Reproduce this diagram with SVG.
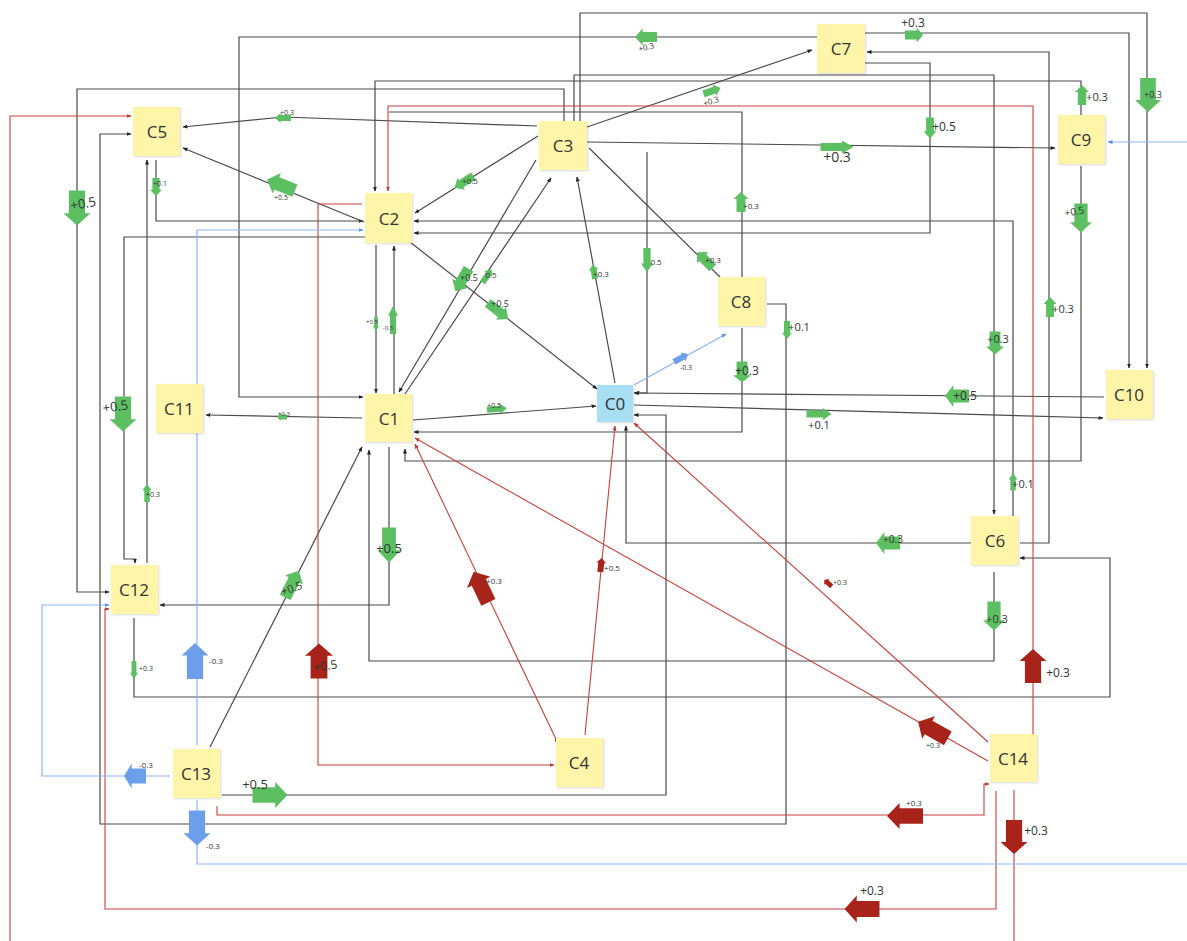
<svg xmlns="http://www.w3.org/2000/svg" xmlns:xlink="http://www.w3.org/1999/xlink" width="1187" height="941" viewBox="0 0 1187 941">
<style>
.k{fill:none;stroke:#4a4a4a;stroke-width:1.2}
.r{fill:none;stroke:#c8413a;stroke-width:1.1}
.b{fill:none;stroke:#8ab4f8;stroke-width:1.2}
.gA{fill:#5cbf62}
.rA{fill:#a8241a}
.bA{fill:#6d9eeb}
.lb{font-family:"Open Sans","Liberation Sans",sans-serif;fill:#333;text-anchor:middle}
.nd{fill:#fff5a8}
.nt{font-family:"Open Sans","Liberation Sans",sans-serif;font-size:17px;fill:#333;text-anchor:middle;dominant-baseline:central}
</style>
<defs>
<path id="ar" d="M-1,-0.6 H0.3 V-1 L1,0 L0.3,1 V0.6 H-1 Z"/>
<marker id="mk" viewBox="0 0 10 10" refX="9" refY="5" markerWidth="5" markerHeight="5" orient="auto" markerUnits="userSpaceOnUse"><path d="M0,1 L10,5 L0,9 Z" fill="#222"/></marker>
<marker id="mr" viewBox="0 0 10 10" refX="9" refY="5" markerWidth="5" markerHeight="5" orient="auto" markerUnits="userSpaceOnUse"><path d="M0,1 L10,5 L0,9 Z" fill="#c0392b"/></marker>
<marker id="mb" viewBox="0 0 10 10" refX="9" refY="5" markerWidth="5" markerHeight="5" orient="auto" markerUnits="userSpaceOnUse"><path d="M0,1 L10,5 L0,9 Z" fill="#5b8fe8"/></marker>
<filter id="sh" x="-10%" y="-10%" width="130%" height="130%"><feDropShadow dx="1" dy="1" stdDeviation="1" flood-color="#000" flood-opacity="0.15"/></filter>
</defs>
<rect width="1187" height="941" fill="#fff"/>
<g id="connectors">
<path class="k" marker-end="url(#mk)" d="M580,121 V13 H1147 V368"/>
<path class="k" marker-end="url(#mk)" d="M865,33 H1129 V368"/>
<path class="k" marker-end="url(#mk)" d="M817,37 H239 V397 H363"/>
<path class="k" marker-end="url(#mk)" d="M587,127 L812,50"/>
<path class="k" marker-end="url(#mk)" d="M1020,543 H1049 V52 H867"/>
<path class="k" marker-end="url(#mk)" d="M865,63 H930 V233 H414"/>
<path class="k" marker-end="url(#mk)" d="M1013,516 V221 H414"/>
<path class="k" marker-end="url(#mk)" d="M574,121 V75 H994 V514"/>
<path class="k" marker-end="url(#mk)" d="M1081,115 V81 H375 V191"/>
<path class="k" marker-end="url(#mk)" d="M564,121 V89 H77 V592 H109"/>
<path class="k" d="M742,277 V112 H389"/>
<path class="k" marker-end="url(#mk)" d="M537,126 L283,117 L183,127"/>
<path class="k" marker-end="url(#mk)" d="M587,142 L1055,148"/>
<path class="k" marker-end="url(#mk)" d="M647,152 V393 H634"/>
<path class="k" marker-end="url(#mk)" d="M1081,166 V461 H405 V449"/>
<path class="k" marker-end="url(#mk)" d="M767,304 H786 V824 H100 V134 H131"/>
<path class="k" marker-end="url(#mk)" d="M156,160 V221 H363"/>
<path class="k" marker-end="url(#mk)" d="M147,563 V160"/>
<path class="k" marker-end="url(#mk)" d="M365,237 H124 V559 H135 V563"/>
<path class="k" marker-end="url(#mk)" d="M389,447 V605 H160"/>
<path class="k" marker-end="url(#mk)" d="M134,618 V697 H1110 V558 H1020"/>
<path class="k" marker-end="url(#mk)" d="M210,747 L362,447"/>
<path class="k" marker-end="url(#mk)" d="M222,795 H666 V415 H634"/>
<path class="k" marker-end="url(#mk)" d="M376,245 V393"/>
<path class="k" marker-end="url(#mk)" d="M394,394 V246"/>
<path class="k" marker-end="url(#mk)" d="M405,394 L551,178"/>
<path class="k" marker-end="url(#mk)" d="M536,160 L399,392"/>
<path class="k" marker-end="url(#mk)" d="M413,420 L596,406"/>
<path class="k" marker-end="url(#mk)" d="M742,328 V432 H414"/>
<path class="k" marker-end="url(#mk)" d="M971,543 H626 V426"/>
<path class="k" marker-end="url(#mk)" d="M615,383 L577,177"/>
<path class="k" marker-end="url(#mk)" d="M634,405 L1103,418"/>
<path class="k" marker-end="url(#mk)" d="M1104,397 L635,393"/>
<path class="k" d="M720,277 L589,148"/>
<path class="k" marker-end="url(#mk)" d="M538,136 L415,213"/>
<path class="k" marker-end="url(#mk)" d="M364,222 L183,148"/>
<path class="k" marker-end="url(#mk)" d="M410,242 L597,389"/>
<path class="k" marker-end="url(#mk)" d="M362,418 L206,415"/>
<path class="k" marker-end="url(#mk)" d="M994,572 V661 H369 V450"/>
<path class="r" marker-end="url(#mr)" d="M1033,734 V106 H388 V191"/>
<path class="r" marker-end="url(#mr)" d="M1014,790 V950 H10 V116 H131"/>
<path class="r" marker-end="url(#mr)" d="M996,791 V909 H105 V609 H109"/>
<path class="r" marker-end="url(#mr)" d="M217,806 V815 H984 V784 H989"/>
<path class="r" marker-start="url(#mr)" marker-end="url(#mr)" d="M555,737 L415,444"/>
<path class="r" marker-end="url(#mr)" d="M988,761 L415,438"/>
<path class="r" marker-end="url(#mr)" d="M988,742 L634,423"/>
<path class="r" marker-end="url(#mr)" d="M585,735 L615,426"/>
<path class="r" marker-end="url(#mr)" d="M362,204 H318 V765 H554"/>
<path class="b" marker-end="url(#mb)" d="M197,800 V864 H1195 V142 H1108"/>
<path class="b" marker-end="url(#mb)" d="M170,776 H42 V605 H109"/>
<path class="b" marker-end="url(#mb)" d="M197,745 V230 H363"/>
<path class="b" marker-end="url(#mb)" d="M634,385 L726,334"/>
<!-- green block arrows -->
<g class="gA">
<use xlink:href="#ar" transform="translate(1148,95) rotate(90) scale(17,13)"/>
<use xlink:href="#ar" transform="translate(914,35) scale(9,7.5)"/>
<use xlink:href="#ar" transform="translate(646,37) rotate(180) scale(11,8.5)"/>
<use xlink:href="#ar" transform="translate(712,91) rotate(-19) scale(9,6)"/>
<use xlink:href="#ar" transform="translate(837,147) scale(16.5,6.5)"/>
<use xlink:href="#ar" transform="translate(930,128) rotate(90) scale(10.5,6.5)"/>
<use xlink:href="#ar" transform="translate(1082,95) rotate(-90) scale(10,7)"/>
<use xlink:href="#ar" transform="translate(1081,218) rotate(90) scale(14.5,11)"/>
<use xlink:href="#ar" transform="translate(1050,307) rotate(-90) scale(10,6.5)"/>
<use xlink:href="#ar" transform="translate(995,343) rotate(90) scale(11.5,9)"/>
<use xlink:href="#ar" transform="translate(957,396) rotate(180) scale(12,11)"/>
<use xlink:href="#ar" transform="translate(819,414) scale(12.5,6)"/>
<use xlink:href="#ar" transform="translate(742,372) rotate(90) scale(10.5,9)"/>
<use xlink:href="#ar" transform="translate(787,330) rotate(90) scale(9,5)"/>
<use xlink:href="#ar" transform="translate(1013,482) rotate(-90) scale(8.5,4.5)"/>
<use xlink:href="#ar" transform="translate(888,543) rotate(180) scale(12,11)"/>
<use xlink:href="#ar" transform="translate(994,616) rotate(90) scale(14.5,11)"/>
<use xlink:href="#ar" transform="translate(741,202) rotate(-90) scale(10,7.5)"/>
<use xlink:href="#ar" transform="translate(705,260) rotate(-135) scale(11,8)"/>
<use xlink:href="#ar" transform="translate(647,260) rotate(90) scale(12,6)"/>
<use xlink:href="#ar" transform="translate(594,272) rotate(-100) scale(7,5)"/>
<use xlink:href="#ar" transform="translate(497,409) rotate(-4) scale(10,5)"/>
<use xlink:href="#ar" transform="translate(282,417) rotate(180) scale(5,4)"/>
<use xlink:href="#ar" transform="translate(462,280) rotate(120.6) scale(13,9)"/>
<use xlink:href="#ar" transform="translate(487,276) rotate(-56) scale(8,5)"/>
<use xlink:href="#ar" transform="translate(498,311) rotate(38) scale(13,8)"/>
<use xlink:href="#ar" transform="translate(464,182) rotate(148) scale(11,7)"/>
<use xlink:href="#ar" transform="translate(281,185) rotate(-158) scale(15,11)"/>
<use xlink:href="#ar" transform="translate(283,118) rotate(180) scale(8,5)"/>
<use xlink:href="#ar" transform="translate(156,187) rotate(90) scale(9,6)"/>
<use xlink:href="#ar" transform="translate(77,208) rotate(90) scale(17.5,13.5)"/>
<use xlink:href="#ar" transform="translate(123,414) rotate(90) scale(17.5,13.5)"/>
<use xlink:href="#ar" transform="translate(147,493) rotate(-90) scale(9,4.5)"/>
<use xlink:href="#ar" transform="translate(134,670) rotate(90) scale(9,4)"/>
<use xlink:href="#ar" transform="translate(376,324) rotate(90) scale(7,3)"/>
<use xlink:href="#ar" transform="translate(393,320) rotate(-90) scale(14,5)"/>
<use xlink:href="#ar" transform="translate(389,545) rotate(90) scale(17.5,11.5)"/>
<use xlink:href="#ar" transform="translate(292,584) rotate(-63) scale(15,10)"/>
<use xlink:href="#ar" transform="translate(270,795) scale(17.5,13)"/>
</g>
<g class="rA">
<use xlink:href="#ar" transform="translate(481,587) rotate(-115.6) scale(17,13)"/>
<use xlink:href="#ar" transform="translate(601,565) rotate(-84) scale(7,5)"/>
<use xlink:href="#ar" transform="translate(828,583) rotate(-138) scale(5,4)"/>
<use xlink:href="#ar" transform="translate(933,730) rotate(-150.6) scale(17,13)"/>
<use xlink:href="#ar" transform="translate(1033,666) rotate(-90) scale(17,13.5)"/>
<use xlink:href="#ar" transform="translate(1014,837) rotate(90) scale(17,13.5)"/>
<use xlink:href="#ar" transform="translate(905,816) rotate(180) scale(18,13)"/>
<use xlink:href="#ar" transform="translate(862,909) rotate(180) scale(17.5,13.5)"/>
<use xlink:href="#ar" transform="translate(319,661) rotate(-90) scale(17.5,14)"/>
</g>
<g class="bA">
<use xlink:href="#ar" transform="translate(681,358) rotate(-29) scale(8,5)"/>
<use xlink:href="#ar" transform="translate(195,661) rotate(-90) scale(18,13.5)"/>
<use xlink:href="#ar" transform="translate(135,776) rotate(180) scale(11,12.5)"/>
<use xlink:href="#ar" transform="translate(197,828) rotate(90) scale(17.5,13.5)"/>
</g>
<!-- labels -->
<text class="lb" x="1153" y="98" font-size="9">+0.3</text>
<text class="lb" x="913" y="27" font-size="12">+0.3</text>
<text class="lb" x="647" y="50" font-size="8" transform="rotate(-15 647 50)">+0.3</text>
<text class="lb" x="712" y="104" font-size="8" transform="rotate(-19 712 104)">+0.3</text>
<text class="lb" x="837" y="162" font-size="14">+0.3</text>
<text class="lb" x="944" y="131" font-size="12">+0.5</text>
<text class="lb" x="1097" y="101" font-size="11">+0.3</text>
<text class="lb" x="1075" y="215" font-size="10" transform="rotate(-10 1075 215)">+0.5</text>
<text class="lb" x="1063" y="313" font-size="11">+0.3</text>
<text class="lb" x="998" y="343" font-size="11">+0.3</text>
<text class="lb" x="965" y="400" font-size="12">+0.5</text>
<text class="lb" x="819" y="429" font-size="11">+0.1</text>
<text class="lb" x="747" y="375" font-size="12">+0.3</text>
<text class="lb" x="799" y="331" font-size="11">+0.1</text>
<text class="lb" x="1023" y="488" font-size="11">+0.1</text>
<text class="lb" x="893" y="543" font-size="10">+0.3</text>
<text class="lb" x="997" y="623" font-size="11">+0.3</text>
<text class="lb" x="751" y="209" font-size="8">+0.3</text>
<text class="lb" x="713" y="263" font-size="8">+0.3</text>
<text class="lb" x="656" y="265" font-size="8">0.5</text>
<text class="lb" x="601" y="277" font-size="8">+0.3</text>
<text class="lb" x="494" y="408" font-size="7">+0.5</text>
<text class="lb" x="284" y="416" font-size="6">+0.3</text>
<text class="lb" x="469" y="281" font-size="9">+0.5</text>
<text class="lb" x="491" y="278" font-size="8">0.5</text>
<text class="lb" x="500" y="307" font-size="9">+0.5</text>
<text class="lb" x="470" y="184" font-size="8">+0.5</text>
<text class="lb" x="281" y="200" font-size="7">+0.5</text>
<text class="lb" x="287" y="115" font-size="7">+0.3</text>
<text class="lb" x="160" y="186" font-size="7">+0.1</text>
<text class="lb" x="84" y="208" font-size="13" transform="rotate(-10 84 208)">+0.5</text>
<text class="lb" x="116" y="411" font-size="13" transform="rotate(-8 116 411)">+0.5</text>
<text class="lb" x="153" y="497" font-size="7">+0.3</text>
<text class="lb" x="146" y="671" font-size="7">+0.3</text>
<text class="lb" x="372" y="324" font-size="6">+0.5</text>
<text class="lb" x="388" y="330" font-size="6">-0.3</text>
<text class="lb" x="389" y="553" font-size="13">+0.5</text>
<text class="lb" x="293" y="592" font-size="11" transform="rotate(-20 293 592)">+0.5</text>
<text class="lb" x="255" y="789" font-size="13">+0.5</text>
<text class="lb" x="494" y="584" font-size="8">+0.3</text>
<text class="lb" x="612" y="571" font-size="8">+0.5</text>
<text class="lb" x="840" y="585" font-size="7">+0.3</text>
<text class="lb" x="933" y="748" font-size="7">+0.3</text>
<text class="lb" x="1058" y="677" font-size="12">+0.3</text>
<text class="lb" x="1036" y="835" font-size="12">+0.3</text>
<text class="lb" x="914" y="806" font-size="8">+0.3</text>
<text class="lb" x="872" y="895" font-size="12">+0.3</text>
<text class="lb" x="326" y="670" font-size="12" transform="rotate(-8 326 670)">+0.5</text>
<text class="lb" x="686" y="370" font-size="7">-0.3</text>
<text class="lb" x="216" y="664" font-size="8">-0.3</text>
<text class="lb" x="146" y="768" font-size="8">-0.3</text>
<text class="lb" x="213" y="849" font-size="8">-0.3</text>
</g>
<g id="C0"><rect x="597" y="385" width="36" height="37" fill="#a8def4" filter="url(#sh)"/><text class="nt" x="615" y="403" font-size="11">C0</text></g>
<g id="C1"><rect class="nd" x="365" y="394" width="47" height="48" filter="url(#sh)"/><text class="nt" x="389" y="418">C1</text></g>
<g id="C2"><rect class="nd" x="365" y="193" width="47" height="50" filter="url(#sh)"/><text class="nt" x="389" y="218">C2</text></g>
<g id="C3"><rect class="nd" x="539" y="121" width="48" height="49" filter="url(#sh)"/><text class="nt" x="563" y="145">C3</text></g>
<g id="C4"><rect class="nd" x="556" y="738" width="47" height="49" filter="url(#sh)"/><text class="nt" x="579" y="762">C4</text></g>
<g id="C5"><rect class="nd" x="133" y="107" width="47" height="49" filter="url(#sh)"/><text class="nt" x="157" y="131">C5</text></g>
<g id="C6"><rect class="nd" x="971" y="516" width="47" height="49" filter="url(#sh)"/><text class="nt" x="995" y="540">C6</text></g>
<g id="C7"><rect class="nd" x="817" y="24" width="48" height="49" filter="url(#sh)"/><text class="nt" x="841" y="48">C7</text></g>
<g id="C8"><rect class="nd" x="718" y="277" width="47" height="49" filter="url(#sh)"/><text class="nt" x="741" y="301">C8</text></g>
<g id="C9"><rect class="nd" x="1058" y="115" width="47" height="49" filter="url(#sh)"/><text class="nt" x="1081" y="139">C9</text></g>
<g id="C10"><rect class="nd" x="1106" y="370" width="47" height="49" filter="url(#sh)"/><text class="nt" x="1129" y="394">C10</text></g>
<g id="C11"><rect class="nd" x="156" y="384" width="47" height="49" filter="url(#sh)"/><text class="nt" x="179" y="408">C11</text></g>
<g id="C12"><rect class="nd" x="111" y="565" width="47" height="49" filter="url(#sh)"/><text class="nt" x="134" y="589">C12</text></g>
<g id="C13"><rect class="nd" x="173" y="749" width="47" height="49" filter="url(#sh)"/><text class="nt" x="196" y="773">C13</text></g>
<g id="C14"><rect class="nd" x="990" y="734" width="47" height="48" filter="url(#sh)"/><text class="nt" x="1013" y="758">C14</text></g>
</svg>
